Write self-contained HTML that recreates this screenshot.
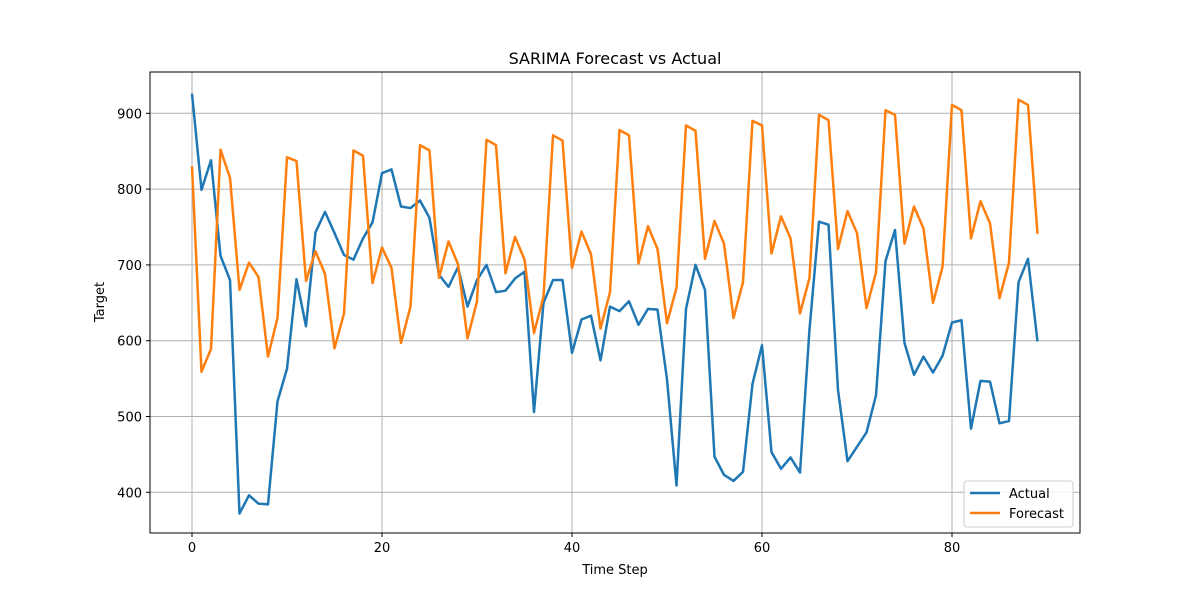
<!DOCTYPE html>
<html><head><meta charset="utf-8"><style>
body{margin:0;background:#fff;font-family:"Liberation Sans","DejaVu Sans",sans-serif}
svg text{font-family:"DejaVu Sans","Liberation Sans",sans-serif}
</style></head><body>
<svg id="chart" width="1200" height="600" xmlns="http://www.w3.org/2000/svg">
<rect width="1200" height="600" fill="#fff"/>
<g id="grid"></g>
<g id="series"></g>
<rect x="150" y="72" width="930" height="461" fill="none" stroke="#000" stroke-width="1"/>
<g id="ticks"></g>
<text x="615" y="64" text-anchor="middle" font-size="16">SARIMA Forecast vs Actual</text>
<text x="615" y="574" text-anchor="middle" font-size="13">Time Step</text>
<text transform="translate(104,302) rotate(-90)" text-anchor="middle" font-size="13">Target</text>
<g>
<rect x="964" y="481" width="109" height="46" rx="3" fill="#fff" fill-opacity="0.8" stroke="#ccc"/>
<line x1="970" y1="493" x2="1000" y2="493" stroke="#1f77b4" stroke-width="2.5"/>
<text x="1009" y="498" font-size="13">Actual</text>
<line x1="970" y1="513" x2="1000" y2="513" stroke="#ff7f0e" stroke-width="2.5"/>
<text x="1009" y="518" font-size="13">Forecast</text>
</g>
</svg>
<script>
const actual=[926,799,838,712,680,372,396,385,384,520,563,681,619,743,770,742,713,707,735,756,821,826,777,775,785,762,687,671,697,645,680,700,664,666,682,691,506,650,680,680,584,628,633,574,645,639,652,621,642,641,549,409,642,700,667,447,423,415,427,543,594,453,431,446,426,615,757,753,535,441,460,479,528,705,746,597,555,579,558,580,624,627,484,547,546,491,494,677,708,599];
const forecast=[830,559,589,852,815,667,703,684,579,630,842,837,679,718,688,590,636,851,844,676,723,696,597,645,858,851,683,731,701,603,652,865,858,689,737,707,610,658,871,864,696,744,714,616,664,878,871,702,751,721,623,670,884,877,708,758,728,630,677,890,884,715,764,735,636,683,898,891,721,771,742,643,690,904,898,728,777,748,650,697,911,904,735,784,755,656,703,918,911,741];
const xTicks=[0,20,40,60,80];
const yTicks=[400,500,600,700,800,900];
const NS="http://www.w3.org/2000/svg";
function xs(i){return 192+i*9.5;}
function ys(v){return 113.3+(900-v)*0.758;}
const grid=document.getElementById('grid'),ticks=document.getElementById('ticks'),series=document.getElementById('series');
function mk(tag,attrs,parent){const e=document.createElementNS(NS,tag);for(const k in attrs)e.setAttribute(k,attrs[k]);parent.appendChild(e);return e;}
xTicks.forEach(t=>{const x=xs(t);
const g=mk('line',{x1:x,y1:72,x2:x,y2:533,stroke:'#b0b0b0','stroke-width':1},grid);


const tk=mk('line',{x1:x,y1:533,x2:x,y2:537,stroke:'#000'},ticks);


const tx=mk('text',{x:x,y:552,'text-anchor':'middle','font-size':13},ticks);tx.textContent=t;


});
yTicks.forEach(t=>{const y=ys(t);
const g=mk('line',{x1:150,y1:y,x2:1080,y2:y,stroke:'#b0b0b0','stroke-width':1},grid);


const tk=mk('line',{x1:146,y1:y,x2:150,y2:y,stroke:'#000'},ticks);


const tx=mk('text',{x:142,y:y+5,'text-anchor':'end','font-size':13},ticks);tx.textContent=t;


});
function line(arr,color,name){
const p=mk('polyline',{points:arr.map((v,i)=>xs(i)+','+ys(v)).join(' '),fill:'none',stroke:color,'stroke-width':2.5,'stroke-linejoin':'round'},series);


}
line(actual,'#1f77b4','actual-line');
line(forecast,'#ff7f0e','forecast-line');
</script>
</body></html>
